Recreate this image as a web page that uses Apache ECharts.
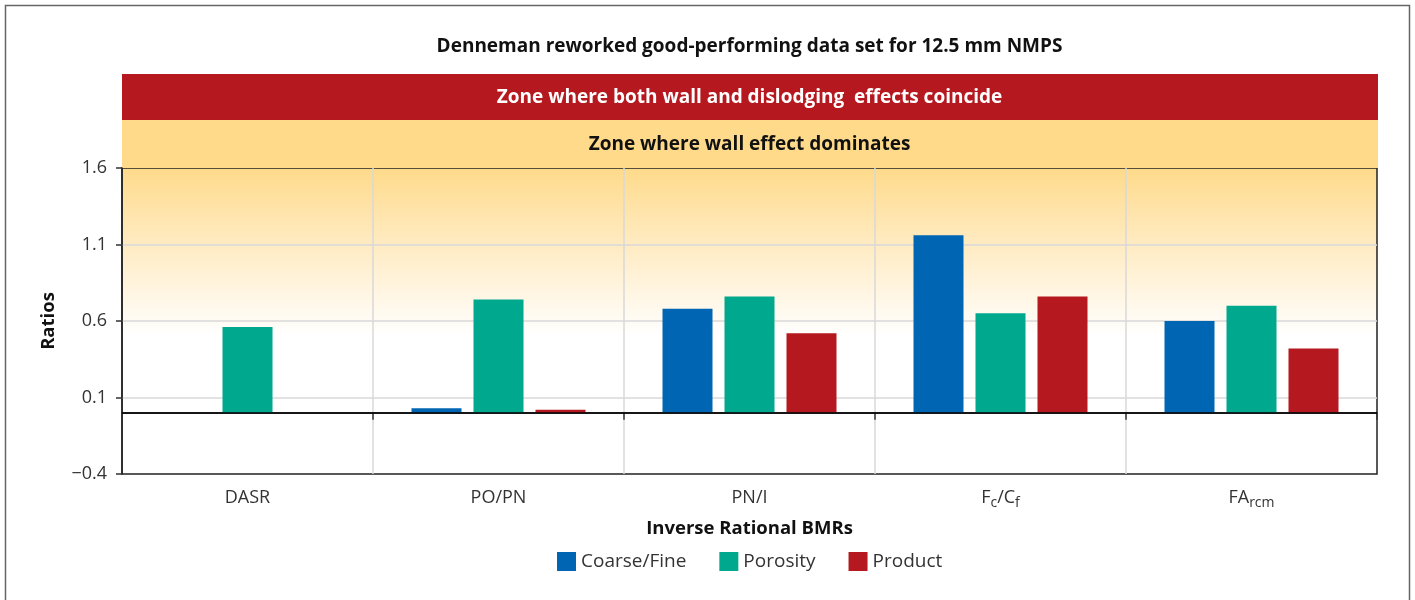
<!DOCTYPE html>
<html>
<head>
<meta charset="utf-8">
<script src="https://cdn.jsdelivr.net/npm/echarts@6/dist/echarts.min.js"></script>
<style>
  html, body { margin: 0; padding: 0; background: #fff; }
  #chart { width: 1415px; height: 600px; }
</style>
</head>
<body>
<div id="chart"></div>
<script>
// data
const categories = ['DASR', 'PO/PN', 'PN/I', 'Fc/Cf', 'FArcm']
const coarseFine = ['-', 0.03, 0.68, 1.16, 0.60]
const porosity = [0.56, 0.74, 0.76, 0.65, 0.70]
const product = ['-', 0.02, 0.52, 0.76, 0.42]
const seriesNames = ['Coarse/Fine', 'Porosity', 'Product']
const colors = ['#0066B3', '#00A88E', '#B5191F']

// labels with subscripts
const labelText = {
  'Fc/Cf': '{m|F}{s|c}{m|/C}{s|f}',
  'FArcm': '{m|FA}{s|rcm}'
}

const FONT = '"Open Sans", "Noto Sans", sans-serif'
const TXT = '#333'

const chart = echarts.init(document.getElementById('chart'))

const grid = { left: 122, right: 38, top: 168, bottom: 126 }
const plotW = 1415 - grid.left - grid.right
const midX = grid.left + plotW / 2

function barSeries(i, data) {
  const s = {
    name: seriesNames[i],
    type: 'bar',
    data: data,
    barWidth: 50,
    barGap: '24%',
    itemStyle: { color: colors[i] },
    z: 3
  }
  if (i === 0) {
    // zero line
    s.markLine = {
      silent: true,
      symbol: 'none',
      label: { show: false },
      lineStyle: { color: '#000', type: 'solid', width: 1.5 },
      data: [{ yAxis: 0 }]
    }
  }
  return s
}

chart.setOption({
  textStyle: { fontFamily: FONT },
  animation: false,
  graphic: [
    {
      type: 'rect',
      shape: { x: 5.5, y: 5.5, width: 1404, height: 640 },
      style: { fill: 'none', stroke: '#666', lineWidth: 1.5 },
      silent: true
    },
    {
      type: 'rect',
      shape: { x: grid.left, y: 74, width: plotW + 1, height: 46 },
      style: { fill: '#B5191F' },
      silent: true
    },
    {
      type: 'rect',
      shape: { x: grid.left, y: 120, width: plotW + 1, height: 48 },
      style: { fill: '#FEDA8A' },
      silent: true
    },
    {
      type: 'text',
      x: midX, y: 47,
      style: {
        text: 'Denneman reworked good-performing data set for 12.5 mm NMPS',
        fill: '#111', font: 'bold 19px ' + FONT,
        align: 'center', verticalAlign: 'middle'
      }
    },
    {
      type: 'text',
      x: midX, y: 98,
      style: {
        text: 'Zone where both wall and dislodging  effects coincide',
        fill: '#fff', font: 'bold 19px ' + FONT,
        align: 'center', verticalAlign: 'middle'
      }
    },
    {
      type: 'text',
      x: midX, y: 145,
      style: {
        text: 'Zone where wall effect dominates',
        fill: '#111', font: 'bold 19px ' + FONT,
        align: 'center', verticalAlign: 'middle'
      }
    }
  ],
  legend: {
    left: 552,
    top: 547,
    itemWidth: 19,
    itemHeight: 19,
    itemGap: 33,
    icon: 'rect',
    data: seriesNames,
    textStyle: { fontSize: 19, color: TXT, fontFamily: FONT }
  },
  grid: {
    left: grid.left,
    right: grid.right,
    top: grid.top,
    bottom: grid.bottom,
    show: true,
    borderColor: '#222',
    borderWidth: 1.5,
    backgroundColor: new echarts.graphic.LinearGradient(0, 0, 0, 1, [
      { offset: 0, color: '#FEDA8A' },
      { offset: 0.25, color: '#FFEBC2' },
      { offset: 0.55, color: '#FFFFFF' },
      { offset: 1, color: '#FFFFFF' }
    ])
  },
  xAxis: {
    type: 'category',
    data: categories,
    name: 'Inverse Rational BMRs',
    nameLocation: 'middle',
    nameGap: 45,
    nameTextStyle: { fontSize: 18.5, fontWeight: 'bold', color: '#111' },
    axisLine: { lineStyle: { color: '#222', width: 1.5 } },
    axisTick: { show: true, length: 7, lineStyle: { color: '#333', width: 1.5 } },
    axisLabel: {
      margin: 12,
      color: TXT,
      fontSize: 18,
      formatter: v => labelText[v] || '{m|' + v + '}',
      rich: {
        m: { fontSize: 18, lineHeight: 24, color: TXT },
        s: { fontSize: 14, color: TXT, verticalAlign: 'bottom', padding: [4, 0, 0, 0] }
      }
    },
    splitLine: {
      show: true,
      showMinLine: false,
      showMaxLine: false,
      lineStyle: { color: '#D9D9D9', width: 1.5 }
    }
  },
  yAxis: {
    type: 'value',
    min: -0.4,
    max: 1.6,
    interval: 0.5,
    name: 'Ratios',
    nameLocation: 'middle',
    nameGap: 64,
    nameRotate: 90,
    nameTextStyle: { fontSize: 18.5, fontWeight: 'bold', color: '#111' },
    axisLine: { show: true, lineStyle: { color: '#222', width: 1.5 } },
    axisTick: { show: true, length: 6, lineStyle: { color: '#333', width: 1.5 } },
    axisLabel: {
      margin: 15,
      color: TXT,
      fontSize: 18,
      formatter: v => v.toFixed(1).replace('-', '\u2212')
    },
    splitLine: {
      show: true,
      showMinLine: false,
      showMaxLine: false,
      lineStyle: { color: '#D9D9D9', width: 1.5 }
    }
  },
  series: [
    barSeries(0, coarseFine),
    barSeries(1, porosity),
    barSeries(2, product)
  ]
})
</script>
</body>
</html>
